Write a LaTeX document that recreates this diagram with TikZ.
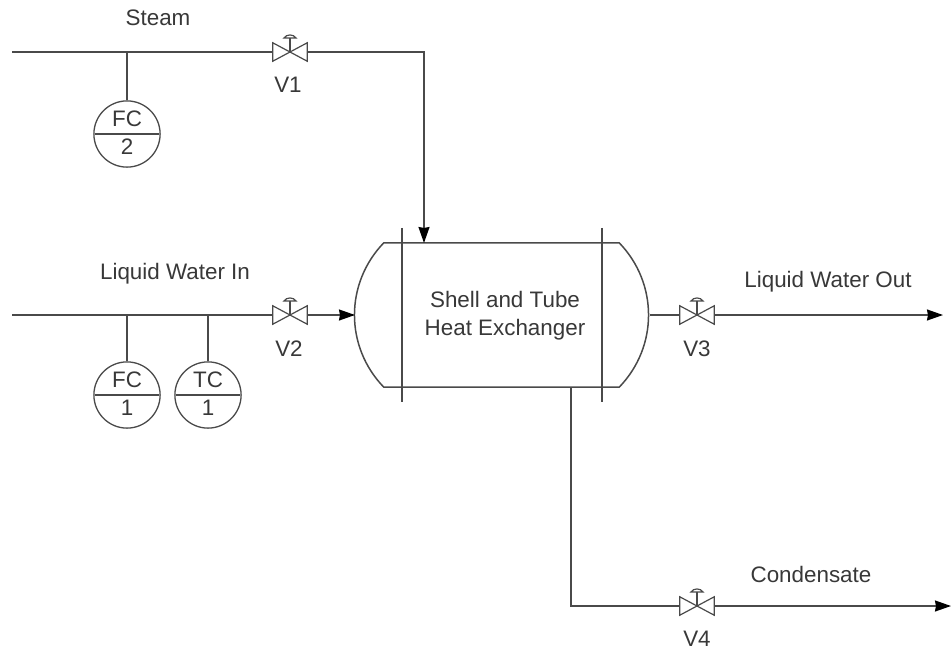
\documentclass[tikz,border=0pt]{standalone}
\usepackage{fontspec}
\setmainfont{Liberation Sans}
\usepackage{xcolor}
\usetikzlibrary{arrows.meta,positioning,shapes.multipart,calc}
\definecolor{pipecol}{HTML}{4A4A4A}
\definecolor{textcol}{HTML}{383838}
\newcommand{\instrtop}[1]{\raisebox{3pt}{#1}}

\begin{document}
\begin{tikzpicture}[
  x=1pt, y=-1pt,
  font=\fontsize{22.4}{28}\selectfont,
  text=textcol,
  node distance=16pt,
  pipe/.style={draw=pipecol, line width=1.5pt},
  arr/.style={pipe, -{Stealth[length=16pt,width=11pt,inset=1pt,black]}},
  valve/.style={rectangle, minimum width=34pt, minimum height=18pt, inner sep=0pt},
  instr/.style={circle split, draw=pipecol, line width=1.3pt, minimum size=66pt,
                inner sep=4pt, text=textcol},
  tag/.style={inner sep=0pt}
]
\useasboundingbox (0,0) rectangle (951,656);
% line ends
\coordinate (steamin) at (12,52);
\coordinate (waterin) at (12,315);
\coordinate (waterout) at (943,315);
\coordinate (condout) at (951,606);
% valves
\node[valve] (v1) at (290,52) {};
\node[valve] (v2) at (290,315) {};
\node[valve] (v3) at (697,315) {};
\node[valve] (v4) at (697,606) {};
\node[tag, below=of v1, xshift=-2pt] (v1tag) {V1};
\node[tag, below=of v2, xshift=-1pt] (v2tag) {V2};
\node[tag, below=of v3] (v3tag) {V3};
\node[tag, below=of v4] (v4tag) {V4};
% instruments
\node[instr] (fc2) at (127,134) {\instrtop{FC}\nodepart{lower}2};
\node[instr] (fc1) at (127,395) {\instrtop{FC}\nodepart{lower}1};
\node[instr] (tc1) at (208,395) {\instrtop{TC}\nodepart{lower}1};
% exchanger
\node[minimum width=235pt, minimum height=144pt, inner sep=0pt] (hx) at (501.5,315) {};
\node[tag, align=center] (hxtag) at (505,316) {Shell and Tube\\Heat Exchanger};
\coordinate (hxleft) at (355,315);
\coordinate (hxright) at (650,315);
\coordinate (hxtop) at (424,243);
\coordinate (hxbot) at (571,387);
% stream labels
\node[tag] (steamtag) at (158,18) {Steam};
\node[tag] (watertag) at (175,274) {Liquid Water In};
\node[tag] (outtag) at (828,282) {Liquid Water Out};
\node[tag] (condtag) at (811,574) {Condensate};
% vessel
\draw[pipe] (hx.north west) -- (hx.north east) to[bend left=44] (hx.south east)
  -- (hx.south west) to[bend left=44] cycle;
\draw[pipe] ($(hx.north west)+(18,-15)$) -- ($(hx.south west)+(18,15)$);
\draw[pipe] ($(hx.north east)+(-17,-15)$) -- ($(hx.south east)+(-17,15)$);
% valve bodies
\foreach \v in {v1,v2,v3,v4} {
  \draw[draw=pipecol, line width=1.2pt, line join=miter]
    (\v.north west) -- (\v.south east) -- (\v.north east) -- (\v.south west) -- cycle;
  \draw[draw=pipecol, line width=1.2pt] (\v.center) -- ++(0,-14);
  \draw[draw=pipecol, line width=1.2pt] ($(\v.center)+(-6,-14)$) to[bend left=60] ($(\v.center)+(6,-14)$) -- cycle;
}
% piping
\draw[pipe] (steamin) -- (v1.west);
\draw[arr] (v1.east) -| (hxtop);
\draw[pipe] (fc2.north) -- (fc2.north |- steamin);
\draw[pipe] (waterin) -- (v2.west);
\draw[arr] (v2.east) -- (hxleft);
\draw[pipe] (fc1.north) -- (fc1.north |- waterin);
\draw[pipe] (tc1.north) -- (tc1.north |- waterin);
\draw[pipe] (hxright) -- (v3.west);
\draw[arr] (v3.east) -- (waterout);
\draw[pipe] (hxbot) |- (v4.west);
\draw[arr] (v4.east) -- (condout);
\end{tikzpicture}
\end{document}
